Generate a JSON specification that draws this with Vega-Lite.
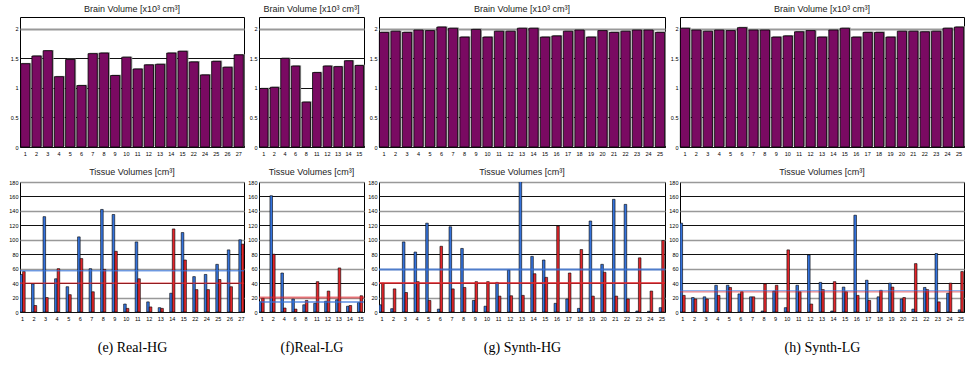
{
  "$schema": "https://vega.github.io/schema/vega-lite/v6.json",
  "background": "white",
  "padding": {"left": 8, "top": 4, "right": 2, "bottom": 2},
  "datasets": {
    "brain_e": [
      {"id": 1, "v": 1.41}, {"id": 2, "v": 1.54}, {"id": 3, "v": 1.63}, {"id": 4, "v": 1.19}, {"id": 5, "v": 1.48},
      {"id": 6, "v": 1.04}, {"id": 7, "v": 1.58}, {"id": 8, "v": 1.59}, {"id": 9, "v": 1.21}, {"id": 10, "v": 1.52},
      {"id": 11, "v": 1.32}, {"id": 12, "v": 1.39}, {"id": 13, "v": 1.40}, {"id": 14, "v": 1.59}, {"id": 15, "v": 1.62},
      {"id": 22, "v": 1.44}, {"id": 24, "v": 1.22}, {"id": 25, "v": 1.45}, {"id": 26, "v": 1.35}, {"id": 27, "v": 1.56}
    ],
    "brain_f": [
      {"id": 1, "v": 0.99}, {"id": 2, "v": 1.01}, {"id": 4, "v": 1.50}, {"id": 6, "v": 1.37}, {"id": 8, "v": 0.76},
      {"id": 11, "v": 1.26}, {"id": 12, "v": 1.37}, {"id": 13, "v": 1.36}, {"id": 14, "v": 1.46}, {"id": 15, "v": 1.38}
    ],
    "brain_g": [
      {"id": 1, "v": 1.94}, {"id": 2, "v": 1.96}, {"id": 3, "v": 1.94}, {"id": 4, "v": 1.98}, {"id": 5, "v": 1.97},
      {"id": 6, "v": 2.03}, {"id": 7, "v": 2.01}, {"id": 8, "v": 1.86}, {"id": 9, "v": 1.99}, {"id": 10, "v": 1.86},
      {"id": 11, "v": 1.96}, {"id": 12, "v": 1.96}, {"id": 13, "v": 2.01}, {"id": 14, "v": 2.01}, {"id": 15, "v": 1.86},
      {"id": 16, "v": 1.88}, {"id": 17, "v": 1.96}, {"id": 18, "v": 1.98}, {"id": 19, "v": 1.86}, {"id": 20, "v": 1.97},
      {"id": 21, "v": 1.94}, {"id": 22, "v": 1.96}, {"id": 23, "v": 1.98}, {"id": 24, "v": 1.98}, {"id": 25, "v": 1.94}
    ],
    "brain_h": [
      {"id": 1, "v": 2.01}, {"id": 2, "v": 1.98}, {"id": 3, "v": 1.96}, {"id": 4, "v": 1.98}, {"id": 5, "v": 1.97},
      {"id": 6, "v": 2.02}, {"id": 7, "v": 1.98}, {"id": 8, "v": 1.98}, {"id": 9, "v": 1.86}, {"id": 10, "v": 1.88},
      {"id": 11, "v": 1.95}, {"id": 12, "v": 1.97}, {"id": 13, "v": 1.86}, {"id": 14, "v": 1.98}, {"id": 15, "v": 2.01},
      {"id": 16, "v": 1.86}, {"id": 17, "v": 1.94}, {"id": 18, "v": 1.94}, {"id": 19, "v": 1.86}, {"id": 20, "v": 1.96},
      {"id": 21, "v": 1.96}, {"id": 22, "v": 1.95}, {"id": 23, "v": 1.96}, {"id": 24, "v": 2.01}, {"id": 25, "v": 2.03}
    ],
    "tissue_e": [
      {"id": 1, "s": "A", "v": 52}, {"id": 1, "s": "B", "v": 56},
      {"id": 2, "s": "A", "v": 39}, {"id": 2, "s": "B", "v": 9},
      {"id": 3, "s": "A", "v": 132}, {"id": 3, "s": "B", "v": 20},
      {"id": 4, "s": "A", "v": 46}, {"id": 4, "s": "B", "v": 60},
      {"id": 5, "s": "A", "v": 35}, {"id": 5, "s": "B", "v": 24},
      {"id": 6, "s": "A", "v": 104}, {"id": 6, "s": "B", "v": 74},
      {"id": 7, "s": "A", "v": 60}, {"id": 7, "s": "B", "v": 28},
      {"id": 8, "s": "A", "v": 142}, {"id": 8, "s": "B", "v": 59},
      {"id": 9, "s": "A", "v": 135}, {"id": 9, "s": "B", "v": 84},
      {"id": 10, "s": "A", "v": 11}, {"id": 10, "s": "B", "v": 5},
      {"id": 11, "s": "A", "v": 97}, {"id": 11, "s": "B", "v": 46},
      {"id": 12, "s": "A", "v": 14}, {"id": 12, "s": "B", "v": 7},
      {"id": 13, "s": "A", "v": 6}, {"id": 13, "s": "B", "v": 5},
      {"id": 14, "s": "A", "v": 26}, {"id": 14, "s": "B", "v": 115},
      {"id": 15, "s": "A", "v": 110}, {"id": 15, "s": "B", "v": 72},
      {"id": 22, "s": "A", "v": 49}, {"id": 22, "s": "B", "v": 31},
      {"id": 24, "s": "A", "v": 52}, {"id": 24, "s": "B", "v": 31},
      {"id": 25, "s": "A", "v": 66}, {"id": 25, "s": "B", "v": 45},
      {"id": 26, "s": "A", "v": 86}, {"id": 26, "s": "B", "v": 35},
      {"id": 27, "s": "A", "v": 100}, {"id": 27, "s": "B", "v": 94}
    ],
    "tissue_f": [
      {"id": 1, "s": "A", "v": 14}, {"id": 1, "s": "B", "v": 19},
      {"id": 2, "s": "A", "v": 161}, {"id": 2, "s": "B", "v": 80},
      {"id": 4, "s": "A", "v": 54}, {"id": 4, "s": "B", "v": 5.5},
      {"id": 6, "s": "A", "v": 18}, {"id": 6, "s": "B", "v": 4},
      {"id": 8, "s": "A", "v": 10}, {"id": 8, "s": "B", "v": 16},
      {"id": 11, "s": "A", "v": 12}, {"id": 11, "s": "B", "v": 42},
      {"id": 12, "s": "A", "v": 15}, {"id": 12, "s": "B", "v": 29},
      {"id": 13, "s": "A", "v": 17}, {"id": 13, "s": "B", "v": 61},
      {"id": 14, "s": "A", "v": 8}, {"id": 14, "s": "B", "v": 9},
      {"id": 15, "s": "A", "v": 13}, {"id": 15, "s": "B", "v": 22.5}
    ],
    "tissue_g": [
      {"id": 1, "s": "A", "v": 10}, {"id": 1, "s": "B", "v": 40},
      {"id": 2, "s": "A", "v": 4.6}, {"id": 2, "s": "B", "v": 32},
      {"id": 3, "s": "A", "v": 97}, {"id": 3, "s": "B", "v": 27},
      {"id": 4, "s": "A", "v": 83}, {"id": 4, "s": "B", "v": 42},
      {"id": 5, "s": "A", "v": 123}, {"id": 5, "s": "B", "v": 16},
      {"id": 6, "s": "A", "v": 4}, {"id": 6, "s": "B", "v": 91},
      {"id": 7, "s": "A", "v": 118}, {"id": 7, "s": "B", "v": 32},
      {"id": 8, "s": "A", "v": 88}, {"id": 8, "s": "B", "v": 34},
      {"id": 9, "s": "A", "v": 16}, {"id": 9, "s": "B", "v": 42},
      {"id": 10, "s": "A", "v": 8}, {"id": 10, "s": "B", "v": 42},
      {"id": 11, "s": "A", "v": 41}, {"id": 11, "s": "B", "v": 22},
      {"id": 12, "s": "A", "v": 58}, {"id": 12, "s": "B", "v": 22.5},
      {"id": 13, "s": "A", "v": 190}, {"id": 13, "s": "B", "v": 23},
      {"id": 14, "s": "A", "v": 77}, {"id": 14, "s": "B", "v": 53},
      {"id": 15, "s": "A", "v": 72}, {"id": 15, "s": "B", "v": 48},
      {"id": 16, "s": "A", "v": 12}, {"id": 16, "s": "B", "v": 119},
      {"id": 17, "s": "A", "v": 18}, {"id": 17, "s": "B", "v": 54},
      {"id": 18, "s": "A", "v": 5}, {"id": 18, "s": "B", "v": 86.5},
      {"id": 19, "s": "A", "v": 126}, {"id": 19, "s": "B", "v": 22},
      {"id": 20, "s": "A", "v": 66}, {"id": 20, "s": "B", "v": 55},
      {"id": 21, "s": "A", "v": 156}, {"id": 21, "s": "B", "v": 22},
      {"id": 22, "s": "A", "v": 149}, {"id": 22, "s": "B", "v": 18},
      {"id": 23, "s": "A", "v": 1.4}, {"id": 23, "s": "B", "v": 75},
      {"id": 24, "s": "A", "v": 1}, {"id": 24, "s": "B", "v": 29},
      {"id": 25, "s": "A", "v": 6}, {"id": 25, "s": "B", "v": 99}
    ],
    "tissue_h": [
      {"id": 1, "s": "A", "v": 123}, {"id": 1, "s": "B", "v": 23},
      {"id": 2, "s": "A", "v": 20}, {"id": 2, "s": "B", "v": 18},
      {"id": 3, "s": "A", "v": 21}, {"id": 3, "s": "B", "v": 18},
      {"id": 4, "s": "A", "v": 37}, {"id": 4, "s": "B", "v": 23},
      {"id": 5, "s": "A", "v": 37}, {"id": 5, "s": "B", "v": 34},
      {"id": 6, "s": "A", "v": 25}, {"id": 6, "s": "B", "v": 28},
      {"id": 7, "s": "A", "v": 21}, {"id": 7, "s": "B", "v": 21},
      {"id": 8, "s": "A", "v": 1.4}, {"id": 8, "s": "B", "v": 39},
      {"id": 9, "s": "A", "v": 29}, {"id": 9, "s": "B", "v": 37},
      {"id": 10, "s": "A", "v": 6}, {"id": 10, "s": "B", "v": 86},
      {"id": 11, "s": "A", "v": 37}, {"id": 11, "s": "B", "v": 28},
      {"id": 12, "s": "A", "v": 79}, {"id": 12, "s": "B", "v": 11},
      {"id": 13, "s": "A", "v": 41}, {"id": 13, "s": "B", "v": 31},
      {"id": 14, "s": "A", "v": 1.4}, {"id": 14, "s": "B", "v": 42},
      {"id": 15, "s": "A", "v": 34.5}, {"id": 15, "s": "B", "v": 28},
      {"id": 16, "s": "A", "v": 134}, {"id": 16, "s": "B", "v": 23},
      {"id": 17, "s": "A", "v": 44}, {"id": 17, "s": "B", "v": 16},
      {"id": 18, "s": "A", "v": 21}, {"id": 18, "s": "B", "v": 30},
      {"id": 19, "s": "A", "v": 40}, {"id": 19, "s": "B", "v": 34.5},
      {"id": 20, "s": "A", "v": 18}, {"id": 20, "s": "B", "v": 20},
      {"id": 21, "s": "A", "v": 4}, {"id": 21, "s": "B", "v": 67},
      {"id": 22, "s": "A", "v": 34}, {"id": 22, "s": "B", "v": 31},
      {"id": 23, "s": "A", "v": 81}, {"id": 23, "s": "B", "v": 14},
      {"id": 24, "s": "A", "v": 26}, {"id": 24, "s": "B", "v": 40},
      {"id": 25, "s": "A", "v": 3}, {"id": 25, "s": "B", "v": 56}
    ],
    "mean_e": [{"s": "A", "v": 57}, {"s": "B", "v": 40}],
    "mean_f": [{"s": "A", "v": 14}, {"s": "B", "v": 20}],
    "mean_g": [{"s": "A", "v": 59}, {"s": "B", "v": 40}],
    "mean_h": [{"s": "A", "v": 29.5}, {"s": "B", "v": 28}]
  },
  "config": {
    "view": {"stroke": "black", "strokeWidth": 1},
    "font": "Liberation Sans",
    "title": {"fontSize": 9, "fontWeight": "normal", "color": "#222", "anchor": "middle", "offset": 3},
    "axis": {
      "labelFont": "Liberation Sans", "labelFontSize": 5.5, "labelColor": "black",
      "domain": false, "ticks": false, "labelOverlap": false
    },
    "axisX": {"labelAngle": 0, "labelPadding": 4, "grid": false},
    "axisY": {"labelPadding": 2, "labelOverlap": false}
  },
  "columns": 4,
  "spacing": {"row": 35, "column": 15},
  "bounds": "flush",
  "align": "each",
  "resolve": {"scale": {"x": "independent", "y": "independent"}},
  "concat": [
    {
      "width": 224, "height": 130,
      "title": "Brain Volume [x10³ cm³]",
      "data": {"name": "brain_e"},
      "encoding": {
        "x": {"field": "id", "type": "ordinal", "scale": {"paddingInner": 0.18, "paddingOuter": 0.06}, "axis": {"title": null}},
        "y": {"field": "v", "type": "quantitative", "scale": {"domain": [0, 2.2], "nice": false}, "axis": {"title": null, "values": [0, 0.5, 1, 1.5, 2], "format": "~g", "gridColor": {"condition": {"test": "datum.value === 2", "value": "#999"}, "value": "#111"}, "gridWidth": {"condition": {"test": "datum.value === 2", "value": 2}, "value": 1}}}
      },
      "layer": [
        {"mark": {"type": "bar", "color": "#9a9a9a", "xOffset": 1.3, "yOffset": -0.8}},
        {"mark": {"type": "bar", "color": "#7a0a62", "stroke": "black", "strokeWidth": 0.8}}
      ]
    },
    {
      "width": 105, "height": 130,
      "title": "Brain Volume [x10³ cm³]",
      "data": {"name": "brain_f"},
      "encoding": {
        "x": {"field": "id", "type": "ordinal", "scale": {"paddingInner": 0.2, "paddingOuter": 0.05}, "axis": {"title": null}},
        "y": {"field": "v", "type": "quantitative", "scale": {"domain": [0, 2.2], "nice": false}, "axis": {"title": null, "values": [0, 0.5, 1, 1.5, 2], "format": "~g", "gridColor": {"condition": {"test": "datum.value === 2", "value": "#999"}, "value": "#111"}, "gridWidth": {"condition": {"test": "datum.value === 2", "value": 2}, "value": 1}}}
      },
      "layer": [
        {"mark": {"type": "bar", "color": "#9a9a9a", "xOffset": 1.3, "yOffset": -0.8}},
        {"mark": {"type": "bar", "color": "#7a0a62", "stroke": "black", "strokeWidth": 0.8}}
      ]
    },
    {
      "width": 286, "height": 130,
      "title": "Brain Volume [x10³ cm³]",
      "data": {"name": "brain_g"},
      "encoding": {
        "x": {"field": "id", "type": "ordinal", "scale": {"paddingInner": 0.19, "paddingOuter": 0.03}, "axis": {"title": null}},
        "y": {"field": "v", "type": "quantitative", "scale": {"domain": [0, 2.2], "nice": false}, "axis": {"title": null, "values": [0, 0.5, 1, 1.5, 2], "format": "~g", "gridColor": {"condition": {"test": "datum.value === 2", "value": "#999"}, "value": "#111"}, "gridWidth": {"condition": {"test": "datum.value === 2", "value": 2}, "value": 1}}}
      },
      "layer": [
        {"mark": {"type": "bar", "color": "#9a9a9a", "xOffset": 1.3, "yOffset": -0.8}},
        {"mark": {"type": "bar", "color": "#7a0a62", "stroke": "black", "strokeWidth": 0.8}}
      ]
    },
    {
      "width": 284, "height": 130,
      "title": "Brain Volume [x10³ cm³]",
      "data": {"name": "brain_h"},
      "encoding": {
        "x": {"field": "id", "type": "ordinal", "scale": {"paddingInner": 0.19, "paddingOuter": 0.03}, "axis": {"title": null}},
        "y": {"field": "v", "type": "quantitative", "scale": {"domain": [0, 2.2], "nice": false}, "axis": {"title": null, "values": [0, 0.5, 1, 1.5, 2], "format": "~g", "gridColor": {"condition": {"test": "datum.value === 2", "value": "#999"}, "value": "#111"}, "gridWidth": {"condition": {"test": "datum.value === 2", "value": 2}, "value": 1}}}
      },
      "layer": [
        {"mark": {"type": "bar", "color": "#9a9a9a", "xOffset": 1.3, "yOffset": -0.8}},
        {"mark": {"type": "bar", "color": "#7a0a62", "stroke": "black", "strokeWidth": 0.8}}
      ]
    },
    {
      "width": 224, "height": 130,
      "title": "Tissue Volumes [cm³]",
      "encoding": {
        "y": {"field": "v", "type": "quantitative", "scale": {"domain": [0, 180], "nice": false}, "axis": {"title": null, "values": [0, 20, 40, 60, 80, 100, 120, 140, 160, 180], "labelOverlap": false, "gridColor": {"condition": {"test": "datum.value % 40 === 0", "value": "#111"}, "value": "#999"}, "gridWidth": {"condition": {"test": "datum.value % 40 === 0", "value": 1}, "value": 1.6}}},
        "color": {"field": "s", "type": "nominal", "scale": {"domain": ["A", "B"], "range": ["#3573dc", "#e3252b"]}, "legend": null}
      },
      "layer": [
        {
          "data": {"name": "tissue_e"},
          "mark": {"type": "bar", "stroke": "black", "strokeWidth": 0.6, "clip": true},
          "encoding": {
            "x": {"field": "id", "type": "ordinal", "scale": {"paddingInner": 0.55, "paddingOuter": 0}, "axis": {"title": "(e) Real-HG", "titleFont": "Liberation Serif", "titleFontSize": 14, "titleFontWeight": "normal", "titleColor": "black", "titlePadding": 19}},
            "xOffset": {"field": "s", "type": "nominal", "scale": {"paddingInner": 0}}
          }
        },
        {
          "data": {"name": "mean_e"},
          "mark": {"type": "rule", "strokeWidth": 1}
        }
      ]
    },
    {
      "width": 105, "height": 130,
      "title": "Tissue Volumes [cm³]",
      "encoding": {
        "y": {"field": "v", "type": "quantitative", "scale": {"domain": [0, 180], "nice": false}, "axis": {"title": null, "values": [0, 20, 40, 60, 80, 100, 120, 140, 160, 180], "labelOverlap": false, "gridColor": {"condition": {"test": "datum.value % 40 === 0", "value": "#111"}, "value": "#999"}, "gridWidth": {"condition": {"test": "datum.value % 40 === 0", "value": 1}, "value": 1.6}}},
        "color": {"field": "s", "type": "nominal", "scale": {"domain": ["A", "B"], "range": ["#3573dc", "#e3252b"]}, "legend": null}
      },
      "layer": [
        {
          "data": {"name": "tissue_f"},
          "mark": {"type": "bar", "stroke": "black", "strokeWidth": 0.6, "clip": true},
          "encoding": {
            "x": {"field": "id", "type": "ordinal", "scale": {"paddingInner": 0.4, "paddingOuter": 0}, "axis": {"title": "(f)Real-LG", "titleFont": "Liberation Serif", "titleFontSize": 14, "titleFontWeight": "normal", "titleColor": "black", "titlePadding": 19}},
            "xOffset": {"field": "s", "type": "nominal", "scale": {"paddingInner": 0}}
          }
        },
        {
          "data": {"name": "mean_f"},
          "mark": {"type": "rule", "strokeWidth": 2, "opacity": 0.6}
        }
      ]
    },
    {
      "width": 286, "height": 130,
      "title": "Tissue Volumes [cm³]",
      "encoding": {
        "y": {"field": "v", "type": "quantitative", "scale": {"domain": [0, 180], "nice": false}, "axis": {"title": null, "values": [0, 20, 40, 60, 80, 100, 120, 140, 160, 180], "labelOverlap": false, "gridColor": {"condition": {"test": "datum.value % 40 === 0", "value": "#111"}, "value": "#999"}, "gridWidth": {"condition": {"test": "datum.value % 40 === 0", "value": 1}, "value": 1.6}}},
        "color": {"field": "s", "type": "nominal", "scale": {"domain": ["A", "B"], "range": ["#3573dc", "#e3252b"]}, "legend": null}
      },
      "layer": [
        {
          "data": {"name": "tissue_g"},
          "mark": {"type": "bar", "stroke": "black", "strokeWidth": 0.6, "clip": true},
          "encoding": {
            "x": {"field": "id", "type": "ordinal", "scale": {"paddingInner": 0.5, "paddingOuter": 0}, "axis": {"title": "(g) Synth-HG", "titleFont": "Liberation Serif", "titleFontSize": 14, "titleFontWeight": "normal", "titleColor": "black", "titlePadding": 19}},
            "xOffset": {"field": "s", "type": "nominal", "scale": {"paddingInner": 0}}
          }
        },
        {
          "data": {"name": "mean_g"},
          "mark": {"type": "rule", "strokeWidth": 2, "opacity": 0.75}
        }
      ]
    },
    {
      "width": 284, "height": 130,
      "title": "Tissue Volumes [cm³]",
      "encoding": {
        "y": {"field": "v", "type": "quantitative", "scale": {"domain": [0, 180], "nice": false}, "axis": {"title": null, "values": [0, 20, 40, 60, 80, 100, 120, 140, 160, 180], "labelOverlap": false, "gridColor": {"condition": {"test": "datum.value % 40 === 0", "value": "#111"}, "value": "#999"}, "gridWidth": {"condition": {"test": "datum.value % 40 === 0", "value": 1}, "value": 1.6}}},
        "color": {"field": "s", "type": "nominal", "scale": {"domain": ["A", "B"], "range": ["#3573dc", "#e3252b"]}, "legend": null}
      },
      "layer": [
        {
          "data": {"name": "tissue_h"},
          "mark": {"type": "bar", "stroke": "black", "strokeWidth": 0.6, "clip": true},
          "encoding": {
            "x": {"field": "id", "type": "ordinal", "scale": {"paddingInner": 0.5, "paddingOuter": 0}, "axis": {"title": "(h) Synth-LG", "titleFont": "Liberation Serif", "titleFontSize": 14, "titleFontWeight": "normal", "titleColor": "black", "titlePadding": 19}},
            "xOffset": {"field": "s", "type": "nominal", "scale": {"paddingInner": 0}}
          }
        },
        {
          "data": {"name": "mean_h"},
          "mark": {"type": "rule", "strokeWidth": 1.2, "opacity": 0.55}
        }
      ]
    }
  ]
}
